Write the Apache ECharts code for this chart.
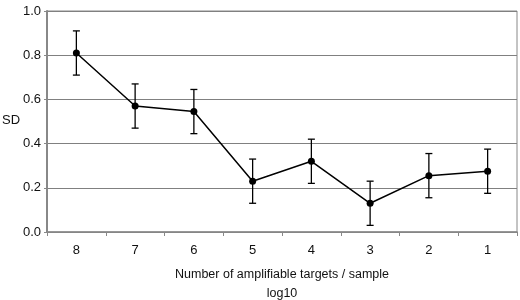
<!DOCTYPE html>
<html>
<head>
<meta charset="utf-8">
<script src="https://cdn.jsdelivr.net/npm/echarts@6/dist/echarts.min.js"></script>
<style>
  html, body { margin: 0; padding: 0; background: #fff; }
  #chart { width: 520px; height: 300px; }
</style>
</head>
<body>
<div id="chart"></div>
<script>
// log10 of amplifiable targets per sample
const categories = ['8', '7', '6', '5', '4', '3', '2', '1'];
const sdValues = [0.81, 0.57, 0.545, 0.23, 0.32, 0.13, 0.255, 0.275];
const errValues = [0.1, 0.1, 0.1, 0.1, 0.1, 0.1, 0.1, 0.1];

const errData = sdValues.map((v, i) => [i, v - errValues[i], v + errValues[i]]);

const chart = echarts.init(document.getElementById('chart'));
const textStyle = { color: '#111', fontFamily: 'Liberation Sans, Arial, sans-serif', fontSize: 13 };

chart.setOption({
  animation: false,
  grid: {
    left: 47, right: 3, top: 11, bottom: 68,
    outerBoundsMode: 'none',
    show: true, borderColor: '#888', borderWidth: 1
  },
  graphic: [{
    type: 'text', left: 2, top: 114,
    style: { text: 'SD', fill: '#111', font: '13px Liberation Sans, Arial, sans-serif' }
  }],
  xAxis: {
    type: 'category',
    data: categories,
    boundaryGap: true,
    name: 'Number of amplifiable targets / sample\nlog10',
    nameLocation: 'middle',
    nameGap: 33,
    nameTextStyle: Object.assign({}, textStyle, { fontSize: 12.5, lineHeight: 19 }),
    axisLine: { lineStyle: { color: '#888', width: 1.5 } },
    axisTick: { show: true, alignWithLabel: false, length: 4, lineStyle: { color: '#888' } },
    axisLabel: Object.assign({ margin: 12 }, textStyle),
    splitLine: { show: false }
  },
  yAxis: {
    type: 'value',
    min: 0, max: 1, interval: 0.2,
    axisLine: { show: true, lineStyle: { color: '#888', width: 2 } },
    axisTick: { show: true, length: 3, lineStyle: { color: '#888' } },
    axisLabel: Object.assign({ margin: 6, formatter: v => v.toFixed(1) }, textStyle),
    splitLine: { show: true, lineStyle: { color: '#808080', width: 1 } }
  },
  series: [
    {
      type: 'custom',
      data: errData,
      z: 3,
      renderItem: function (params, api) {
        const i = api.value(0);
        const lo = api.coord([i, api.value(1)]);
        const hi = api.coord([i, api.value(2)]);
        const w = 3.5;
        const st = { stroke: '#000', lineWidth: 1.3 };
        return {
          type: 'group',
          children: [
            { type: 'line', shape: { x1: lo[0], y1: lo[1], x2: hi[0], y2: hi[1] }, style: st },
            { type: 'line', shape: { x1: hi[0] - w, y1: hi[1], x2: hi[0] + w, y2: hi[1] }, style: st },
            { type: 'line', shape: { x1: lo[0] - w, y1: lo[1], x2: lo[0] + w, y2: lo[1] }, style: st }
          ]
        };
      }
    },
    {
      type: 'line',
      data: sdValues,
      z: 4,
      symbol: 'circle',
      symbolSize: 7,
      itemStyle: { color: '#000' },
      lineStyle: { color: '#000', width: 1.5 }
    }
  ]
});
</script>
</body>
</html>
